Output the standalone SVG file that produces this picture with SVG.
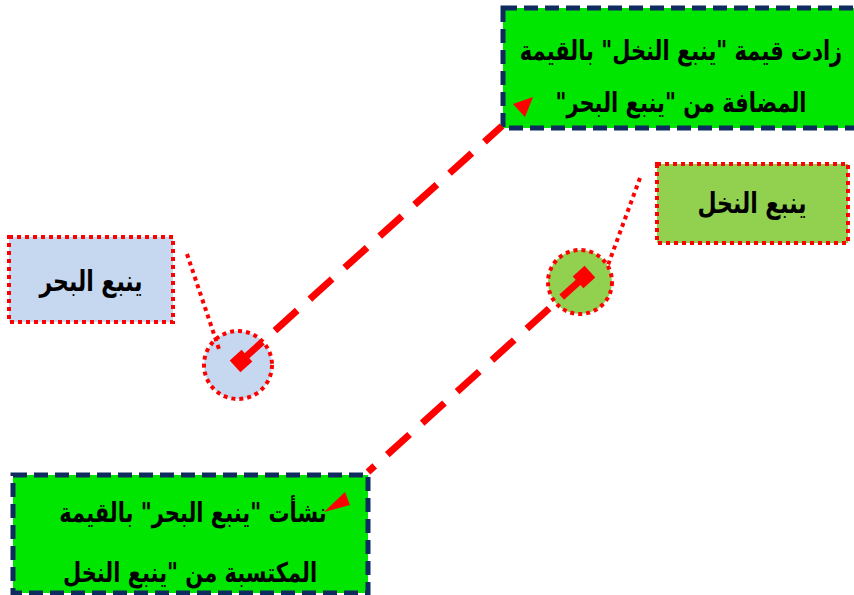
<svg xmlns="http://www.w3.org/2000/svg" width="854" height="595" viewBox="0 0 854 595">
  <style>
    .callout { fill: #00e600; stroke: #0f2a5e; stroke-width: 5; stroke-dasharray: 14 7; }
    .label { stroke: #ff0000; stroke-width: 4; stroke-dasharray: 4 4; }
    .leader { fill: none; stroke: #ff0000; stroke-width: 4; stroke-dasharray: 4 4; }
    .link { fill: none; stroke: #ff0000; stroke-width: 7; stroke-dasharray: 30 17; }
    .head { fill: #ff0000; }
    text { font-family: "DejaVu Sans", "Noto Sans", sans-serif; font-weight: bold; fill: #000; text-anchor: middle; }
    .big { font-size: 21px; }
    .mid { font-size: 22px; }
  </style>

  <!-- callout boxes -->
  <g id="note-top">
    <rect class="callout" x="503" y="8" width="370" height="120"/>
    <text class="big" transform="translate(681 60) scale(1 1.3)" direction="rtl">زادت قيمة "ينبع النخل" بالقيمة</text>
    <text class="big" transform="translate(681 112) scale(1 1.3)" direction="rtl">المضافة من "ينبع البحر"</text>
  </g>
  <g id="note-bottom">
    <rect class="callout" x="13" y="475" width="355" height="118"/>
    <text class="big" transform="translate(193 522) scale(1 1.3)" direction="rtl">نشأت "ينبع البحر" بالقيمة</text>
    <text class="big" transform="translate(190 582) scale(1 1.3)" direction="rtl">المكتسبة من "ينبع النخل</text>
  </g>

  <!-- spring labels -->
  <g id="label-sea">
    <rect class="label" x="9" y="237" width="164" height="85" fill="#c6d8ef"/>
    <text class="mid" transform="translate(91 291) scale(1 1.3)" direction="rtl">ينبع البحر</text>
  </g>
  <g id="label-palm">
    <rect class="label" x="657" y="164" width="191" height="79" fill="#92d050"/>
    <text class="mid" transform="translate(752 213) scale(1 1.3)" direction="rtl">ينبع النخل</text>
  </g>

  <!-- spring points -->
  <g id="point-sea">
    <circle class="label" cx="238" cy="365" r="34" fill="#c6d8ef"/>
  </g>
  <g id="point-palm">
    <circle class="label" cx="580" cy="282" r="32" fill="#92d050"/>
  </g>

  <g id="connectors">
    <!-- dotted leaders from labels to points -->
    <line class="leader" x1="187" y1="254" x2="220" y2="352"/>
    <line class="leader" x1="640" y1="178" x2="608" y2="265"/>

    <!-- sea spring to top note -->
    <line class="link" x1="240" y1="362" x2="502" y2="126"/>
    <rect class="head" x="-8" y="-8" width="16" height="16" transform="translate(241 361) rotate(-42)"/>
    <polygon class="head" points="533,97 513,104 525,117"/>

    <!-- palm spring to bottom note -->
    <line class="link" x1="584" y1="277" x2="368" y2="472"/>
    <rect class="head" x="-8" y="-8" width="16" height="16" transform="translate(584 277) rotate(48)"/>
    <polygon class="head" points="324,512 345,492 350,505"/>
  </g>
</svg>
